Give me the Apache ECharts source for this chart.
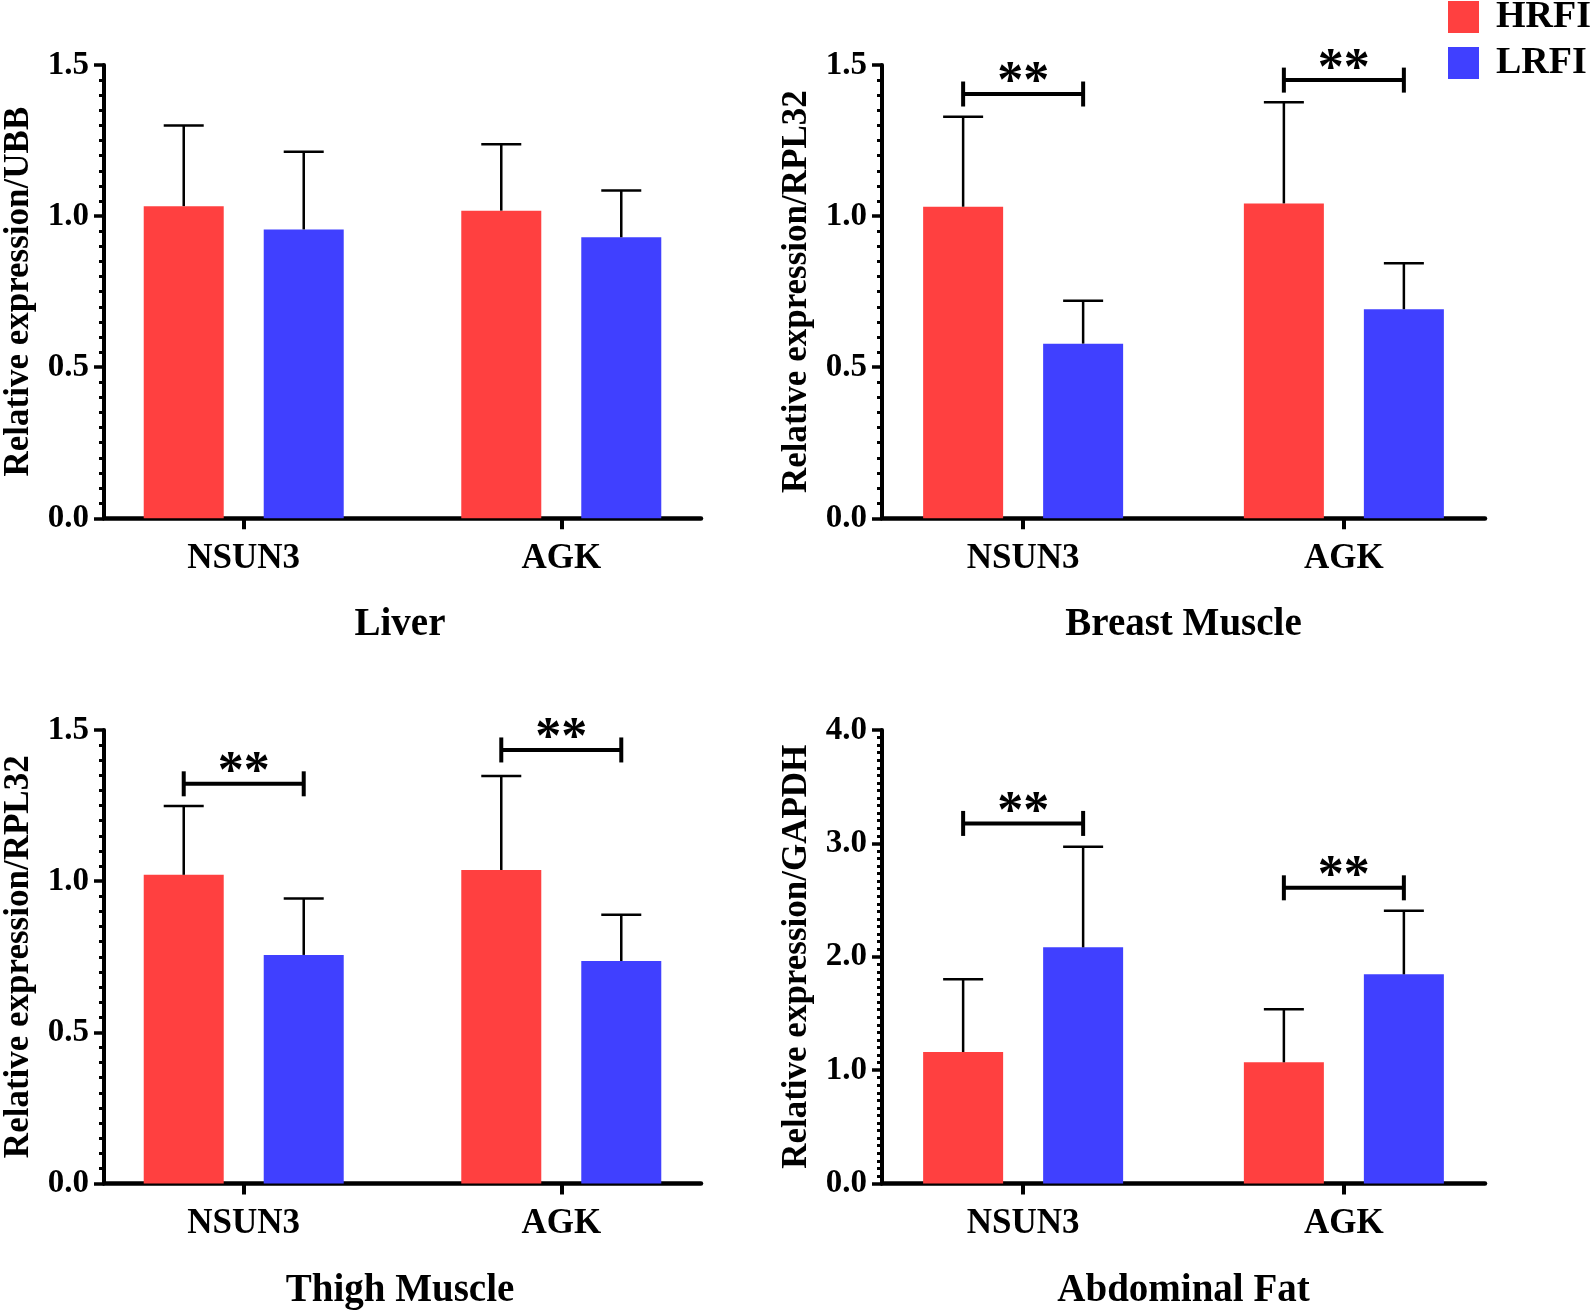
<!DOCTYPE html>
<html><head><meta charset="utf-8">
<script src="https://cdn.jsdelivr.net/npm/echarts@6/dist/echarts.min.js"></script>
<style>html,body{margin:0;padding:0;background:#fff}#c{width:1594px;height:1310px}</style>
</head><body><div id="c"></div>
<script>
// ---------- data ----------
const categories = ['NSUN3', 'AGK'];
const groups = ['HRFI', 'LRFI'];
const panelTitles = ['Liver', 'Breast Muscle', 'Thigh Muscle', 'Abdominal Fat'];
const yNames = ['Relative expression/UBB', 'Relative expression/RPL32', 'Relative expression/RPL32', 'Relative expression/GAPDH'];
const yMax = [1.5, 1.5, 1.5, 4.0];
const yInterval = [0.5, 0.5, 0.5, 1.0];
const yMinorSplit = [10, 10, 10, 15];

const liverHRFI = [1.033, 1.018];
const liverHRFIsd = [0.267, 0.220];
const liverLRFI = [0.956, 0.930];
const liverLRFIsd = [0.257, 0.155];

const breastHRFI = [1.031, 1.042];
const breastHRFIsd = [0.298, 0.335];
const breastLRFI = [0.578, 0.692];
const breastLRFIsd = [0.142, 0.152];

const thighHRFI = [1.021, 1.037];
const thighHRFIsd = [0.228, 0.311];
const thighLRFI = [0.756, 0.736];
const thighLRFIsd = [0.187, 0.153];

const fatHRFI = [1.160, 1.069];
const fatHRFIsd = [0.641, 0.467];
const fatLRFI = [2.083, 1.845];
const fatLRFIsd = [0.887, 0.561];

// significance bracket heights (axis value) per category; null = no bracket
const liverSig = [null, null];
const breastSig = [1.404, 1.450];
const thighSig = [1.322, 1.434];
const fatSig = [3.176, 2.608];
const sigLabel = '**';

// ---------- assembly ----------
const panels = [
  {h: liverHRFI, hs: liverHRFIsd, l: liverLRFI, ls: liverLRFIsd, sig: liverSig},
  {h: breastHRFI, hs: breastHRFIsd, l: breastLRFI, ls: breastLRFIsd, sig: breastSig},
  {h: thighHRFI, hs: thighHRFIsd, l: thighLRFI, ls: thighLRFIsd, sig: thighSig},
  {h: fatHRFI, hs: fatHRFIsd, l: fatLRFI, ls: fatLRFIsd, sig: fatSig}
];
const FONT = '"Liberation Serif", "Times New Roman", serif';
const COLORS = ['rgb(255,64,64)', 'rgb(64,64,255)'];
const BAR_WIDTH = 80;
const BAR_GAP = 0.5;
const BAR_OFFSET = (BAR_WIDTH + BAR_WIDTH * BAR_GAP) / 2;
const CAP = 40;

const gridBoxes = [
  {left: 99, top: 65, width: 602, height: 453.3},
  {left: 882, top: 65, width: 603, height: 453.3},
  {left: 99, top: 730, width: 602, height: 453.5},
  {left: 882, top: 730, width: 603, height: 453.5}
];

function errorRender(params, api) {
  const x = api.value(0), m = api.value(1), e = api.value(2), g = api.value(3);
  const base = api.coord([x, m]);
  const top = api.coord([x, m + e]);
  const cx = base[0] + (g === 0 ? -1 : 1) * BAR_OFFSET;
  const st = {stroke: '#000', lineWidth: 2.5};
  return {type: 'group', children: [
    {type: 'line', shape: {x1: cx, y1: base[1], x2: cx, y2: top[1]}, style: st},
    {type: 'line', shape: {x1: cx - CAP / 2, y1: top[1], x2: cx + CAP / 2, y2: top[1]}, style: st}
  ]};
}
function sigRender(params, api) {
  const p = api.coord([api.value(0), api.value(1)]);
  const x1 = p[0] - BAR_OFFSET, x2 = p[0] + BAR_OFFSET, y = p[1];
  const st = {stroke: '#000', lineWidth: 4};
  return {type: 'group', children: [
    {type: 'line', shape: {x1: x1, y1: y, x2: x2, y2: y}, style: st},
    {type: 'line', shape: {x1: x1, y1: y - 12.5, x2: x1, y2: y + 12.5}, style: st},
    {type: 'line', shape: {x1: x2, y1: y - 12.5, x2: x2, y2: y + 12.5}, style: st},
    {type: 'text', x: p[0], y: y - 10, style: {text: sigLabel, fill: '#000', fontSize: 52, fontFamily: FONT, fontWeight: 'bold', align: 'center', verticalAlign: 'middle'}}
  ]};
}

const grid = [], xAxis = [], yAxis = [], series = [], graphic = [];
panels.forEach((p, i) => {
  grid.push(Object.assign({containLabel: false}, gridBoxes[i]));
  xAxis.push({
    type: 'value', gridIndex: i, min: -0.44, max: 1.44,
    axisLine: {show: true, onZero: false, lineStyle: {color: '#000', width: 4.5}},
    axisTick: {show: true, customValues: [0, 1], length: 11, lineStyle: {color: '#000', width: 4}},
    axisLabel: {show: true, customValues: [0, 1], formatter: v => categories[Math.round(v)], margin: 23,
      fontSize: 35, fontWeight: 'bold', fontFamily: FONT, color: '#000'},
    splitLine: {show: false}, minorTick: {show: false}
  });
  yAxis.push({
    type: 'value', gridIndex: i, min: 0, max: yMax[i], interval: yInterval[i],
    name: yNames[i], nameLocation: 'middle', nameGap: 68,
    nameTextStyle: {fontSize: 35, fontWeight: 'bold', fontFamily: FONT, color: '#000'},
    axisLine: {show: true, onZero: false, lineStyle: {color: '#000', width: 4}},
    axisTick: {show: true, length: 10, lineStyle: {color: '#000', width: 3.5}},
    minorTick: {show: true, splitNumber: yMinorSplit[i], length: 5, lineStyle: {color: '#000', width: 3}},
    axisLabel: {formatter: v => v.toFixed(1), margin: 15, fontSize: 33, fontWeight: 'bold', fontFamily: FONT, color: '#000'},
    splitLine: {show: false}
  });
  [[p.h, p.hs], [p.l, p.ls]].forEach((d, g) => {
    series.push({
      type: 'bar', name: groups[g], xAxisIndex: i, yAxisIndex: i,
      barWidth: BAR_WIDTH, barGap: (BAR_GAP * 100) + '%',
      itemStyle: {color: COLORS[g]},
      data: d[0].map((v, k) => [k, v]), z: 2, animation: false
    });
  });
  const errData = [];
  [[p.h, p.hs], [p.l, p.ls]].forEach((d, g) => d[0].forEach((v, k) => errData.push([k, v, d[1][k], g])));
  series.push({type: 'custom', xAxisIndex: i, yAxisIndex: i, renderItem: errorRender, data: errData, z: 3, clip: false, animation: false});
  const sigData = p.sig.map((v, k) => v == null ? null : [k, v]).filter(d => d);
  if (sigData.length) series.push({type: 'custom', xAxisIndex: i, yAxisIndex: i, renderItem: sigRender, data: sigData, z: 3, clip: false, animation: false});
  const gb = gridBoxes[i];
  graphic.push({type: 'text', x: gb.left + gb.width / 2, y: i < 2 ? 624.5 : 1290.5,
    style: {text: panelTitles[i], fill: '#000', fontSize: 39, fontWeight: 'bold', fontFamily: FONT, align: 'center', verticalAlign: 'middle'}});
});

const chart = echarts.init(document.getElementById('c'), null, {renderer: 'canvas'});
chart.setOption({
  animation: false,
  backgroundColor: '#fff',
  grid, xAxis, yAxis, series, graphic,
  legend: {
    data: groups, orient: 'vertical', left: 1448, top: -2, padding: 0,
    itemWidth: 31, itemHeight: 32, itemGap: 8, icon: 'rect', selectedMode: false,
    textStyle: {fontSize: 38, fontWeight: 'bold', fontFamily: FONT, color: '#000', padding: [0, 0, 0, 12]}
  }
});
</script></body></html>
